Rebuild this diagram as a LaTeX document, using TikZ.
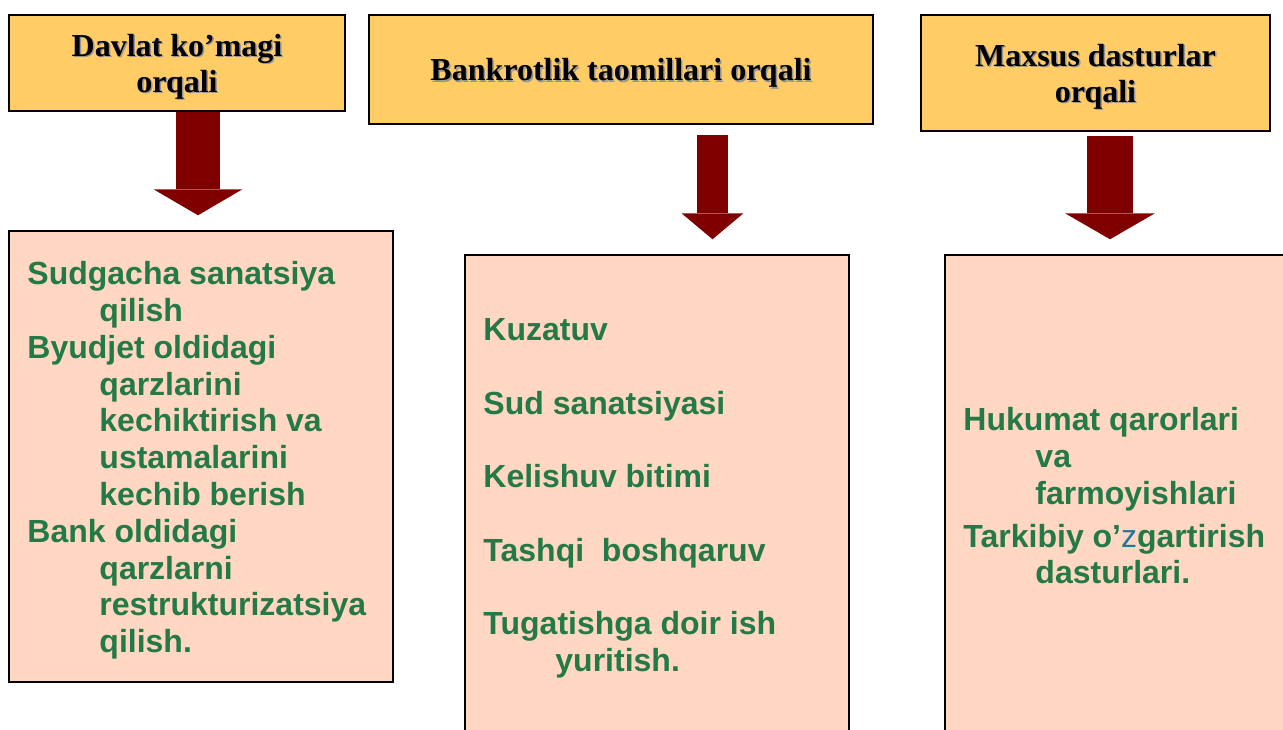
\documentclass[tikz,border=0pt]{standalone}
\usepackage{fontspec}
\setmainfont{Liberation Serif}
\setsansfont{Liberation Sans}
\usetikzlibrary{positioning}
\usetikzlibrary{arrows.meta}

\definecolor{headfill}{RGB}{255,204,102}
\definecolor{bodyfill}{RGB}{255,215,194}
\definecolor{textgreen}{RGB}{35,122,70}
\definecolor{arrowred}{RGB}{128,0,0}
\definecolor{shadowgray}{RGB}{150,150,150}
\definecolor{zblue}{RGB}{30,120,155}

\newcommand{\shad}[1]{\leavevmode\rlap{\hspace{1.5pt}\raisebox{-1.5pt}{\color{shadowgray}#1}}#1}
\newcommand{\ind}{\hspace*{72pt}}

\begin{document}
\begin{tikzpicture}[
  x=1pt, y=-1pt,
  head/.style={draw, line width=1.5pt, fill=headfill, inner sep=0, align=center,
    text depth=0pt, font=\fontsize{32}{36}\selectfont\bfseries},
  body/.style={draw, line width=1.5pt, fill=bodyfill, inner sep=0},
  txt/.style={inner sep=0, align=left, text=textgreen,
    font=\fontsize{32}{36.8}\selectfont\sffamily\bfseries},
  ar/.style={draw=arrowred, fill=arrowred}
  ]
  \useasboundingbox (0,0) rectangle (1283,729);
  \clip (0,0) rectangle (1283,729);
  % top row
  \node[head, minimum width=336pt, minimum height=96pt] (h1) at (177,63)
    {\shad{Davlat ko’magi}\\\shad{orqali}};
  \node[head, minimum width=504pt, minimum height=109pt] (h2) at (621,69.5)
    {\shad{Bankrotlik taomillari orqali}};
  \node[head, minimum width=349pt, minimum height=116pt] (h3) at (1095.5,73)
    {\shad{Maxsus dasturlar}\\\shad{orqali}};
  % lower boxes
  \node[body, minimum width=384pt, minimum height=451pt] (b1) at (201,456.5) {};
  \node[body, minimum width=384pt, minimum height=490pt] (b2) at (657,500) {};
  \node[body, minimum width=355pt, minimum height=490pt] (b3) at (1122.5,500) {};
  % arrows
  \draw[ar, line width=44pt, shorten >=15pt,
    -{Triangle[width=89pt,length=26pt,line width=0pt]}]
    ([xshift=21pt]h1.south) -- ([xshift=-3pt]b1.north);
  \draw[ar, line width=31pt, shorten <=10.5pt, shorten >=15pt,
    -{Triangle[width=62pt,length=26pt,line width=0pt]}]
    ([xshift=91.5pt]h2.south) -- ([xshift=55.5pt]b2.north);
  \draw[ar, line width=46pt, shorten <=4pt, shorten >=15pt,
    -{Triangle[width=90pt,length=26pt,line width=0pt]}]
    ([xshift=14.5pt]h3.south) -- ([xshift=-12.5pt]b3.north);
  % texts
  \node[txt, anchor=north west, below right=31pt and 19pt of b1.north west] (t1)
    {Sudgacha sanatsiya\\\ind qilish\\Byudjet oldidagi\\\ind qarzlarini\\
     \ind kechiktirish va\\\ind ustamalarini\\\ind kechib berish\\
     Bank oldidagi\\\ind qarzlarni\\\ind restrukturizatsiya\\\ind qilish.};
  \node[txt, anchor=north west, below right=64.5pt and 19pt of b2.north west] (t2)
    {Kuzatuv\\[36.7pt]Sud sanatsiyasi\\[36.7pt]Kelishuv bitimi\\[36.7pt]
     Tashqi\ \ boshqaruv\\[36.7pt]Tugatishga doir ish\\\ind yuritish.};
  \node[txt, anchor=north west, below right=153pt and 19pt of b3.north west] (t3)
    {Hukumat qarorlari\\\ind va\\\ind farmoyishlari\\[6pt]
     Tarkibiy o’{\mdseries\color{zblue}z}gartirish\\\ind dasturlari.};
\end{tikzpicture}
\end{document}
